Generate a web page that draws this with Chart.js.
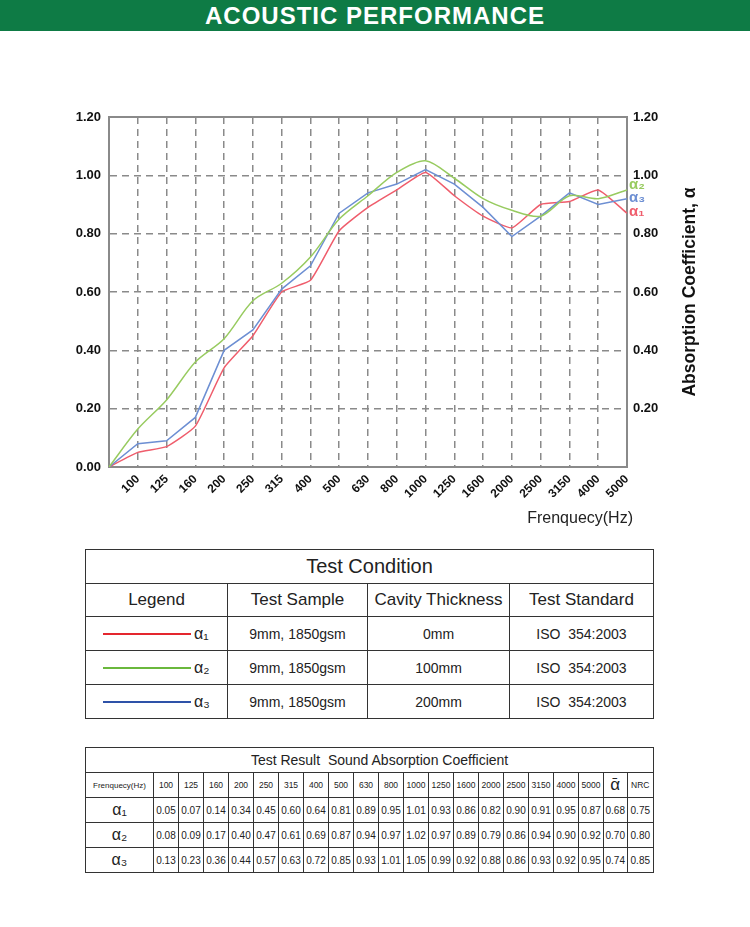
<!DOCTYPE html>
<html><head><meta charset="utf-8">
<script src="https://cdn.jsdelivr.net/npm/chart.js@4.4.0/dist/chart.umd.min.js"></script>
<style>
body{margin:0;width:750px;height:927px;background:#fff;font-family:"Liberation Sans",Arial,sans-serif;position:relative;overflow:hidden}
#bar{position:absolute;left:0;top:0;width:750px;height:31px;background:#0e7b45;color:#fff;font-size:24px;font-weight:bold;letter-spacing:1px;text-align:center;line-height:32px}
#wrap{position:absolute;left:0;top:40px;width:750px;height:500px}
table{position:absolute;border-collapse:collapse;table-layout:fixed;color:#222}
td{border:1.5px solid #333;text-align:center;padding:0;overflow:hidden;white-space:nowrap}
.lg{display:inline-block;width:88px;height:2px;vertical-align:middle;margin-right:3px}
.al{font-size:16px;vertical-align:middle}
</style>
</head><body>
<div id="bar">ACOUSTIC PERFORMANCE</div>
<div id="wrap"><canvas id="c" width="750" height="500"></canvas></div>
<table id="t1" style="left:85px;top:549px;width:568px"></table>
<table id="t2" style="left:85px;top:747px;width:568px"></table>
<script>
// ---- data ----
const freqLabels = ['100','125','160','200','250','315','400','500','630','800','1000','1250','1600','2000','2500','3150','4000','5000'];
const xLabels = [''].concat(freqLabels); // origin position + frequencies
const tableAlpha1 = [0.05,0.07,0.14,0.34,0.45,0.60,0.64,0.81,0.89,0.95,1.01,0.93,0.86,0.82,0.90,0.91,0.95,0.87];
const tableAlpha2 = [0.08,0.09,0.17,0.40,0.47,0.61,0.69,0.87,0.94,0.97,1.02,0.97,0.89,0.79,0.86,0.94,0.90,0.92];
const tableAlpha3 = [0.13,0.23,0.36,0.44,0.57,0.63,0.72,0.85,0.93,1.01,1.05,0.99,0.92,0.88,0.86,0.93,0.92,0.95];
const meanAlpha = [0.68,0.70,0.74];
const nrc = [0.75,0.80,0.85];
// chart curves (start at origin 0)
const redCurve = [0].concat(tableAlpha1);
const blueCurve = [0].concat(tableAlpha2);
const greenCurve = [0].concat(tableAlpha3);
const yTicks = [0,0.2,0.4,0.6,0.8,1.0,1.2];
// test condition
const condHeaders = ['Legend','Test Sample','Cavity Thickness','Test Standard'];
const condLegend = ['α₁','α₂','α₃'];
const condSample = ['9mm, 1850gsm','9mm, 1850gsm','9mm, 1850gsm'];
const condCavity = ['0mm','100mm','200mm'];
const condStandard = ['ISO  354:2003','ISO  354:2003','ISO  354:2003'];

const RED='#ef5d6c', GREEN='#98cb60', BLUE='#6d8fd3';
const LRED='#e4262e', LGREEN='#6ab83c', LBLUE='#2e52a8';
const GRID='#8a8a8a';
const FONT='"Liberation Sans", Arial, sans-serif';

const extras = {
  id:'extras',
  afterDraw(chart){
    const ctx = chart.ctx, a = chart.chartArea, y = chart.scales.y;
    ctx.save();
    ctx.font = 'bold 17.5px ' + FONT;
    ctx.fillStyle = '#111';
    ctx.translate(690, (a.top + a.bottom)/2);
    ctx.rotate(-Math.PI/2);
    ctx.textAlign = 'center'; ctx.textBaseline = 'middle';
    ctx.fillText('Absorption Coefficient, α', 0, 0);
    ctx.restore();
    ctx.save();
    ctx.font = '16px ' + FONT;
    ctx.fillStyle = '#222';
    ctx.textAlign = 'right'; ctx.textBaseline = 'middle';
    ctx.fillText('Frenquecy(Hz)', a.right + 6, a.bottom + 52);
    ctx.font = 'bold 15px ' + FONT;
    ctx.textAlign = 'left';
    const marks = [[greenCurve, GREEN, 'α₂', -5],[blueCurve, BLUE, 'α₃', -1],[redCurve, RED, 'α₁', -1]];
    marks.forEach(m => {
      ctx.fillStyle = m[1];
      ctx.fillText(m[2], a.right + 2, y.getPixelForValue(m[0][m[0].length-1]) + m[3]);
    });
    ctx.restore();
  }
};

const tickFont = {family:FONT, size:13, weight:'bold'};
new Chart(document.getElementById('c'), {
  type:'line',
  data:{
    labels:xLabels,
    datasets:[
      {label:'α₂', data:greenCurve, borderColor:GREEN, borderWidth:1.5, pointRadius:0, tension:0.3},
      {label:'α₃', data:blueCurve, borderColor:BLUE, borderWidth:1.5, pointRadius:0, tension:0},
      {label:'α₁', data:redCurve, borderColor:RED, borderWidth:1.5, pointRadius:0, tension:0.15}
    ]
  },
  options:{
    responsive:false, animation:false, devicePixelRatio:1,
    layout:{padding:{top:77,left:0,right:0,bottom:0}},
    plugins:{legend:{display:false}, tooltip:{enabled:false}},
    scales:{
      x:{type:'category', offset:false,
        grid:{color:GRID, lineWidth:1.5, drawTicks:false},
        border:{color:GRID, width:2, dash:[7,5]},
        ticks:{autoSkip:false, maxRotation:45, minRotation:45, padding:5, color:'#111',
          font:{family:FONT, size:12, weight:'bold'}},
        afterFit(s){ s.height = 73; }
      },
      x2:{type:'category', position:'top', offset:false,
        grid:{display:false, drawTicks:false},
        border:{display:true, color:GRID, width:2},
        ticks:{display:false},
        afterFit(s){ s.height = 0; }
      },
      y:{min:0, max:1.2, position:'left',
        afterBuildTicks(s){ s.ticks = yTicks.map(v => ({value:v})); },
        grid:{color:GRID, lineWidth:1.5, drawTicks:false},
        border:{color:GRID, width:2, dash:[7,5]},
        ticks:{padding:8, color:'#111', font:tickFont, callback:v => Number(v).toFixed(2)},
        afterFit(s){ s.width = 109; }
      },
      y2:{min:0, max:1.2, position:'right',
        afterBuildTicks(s){ s.ticks = yTicks.map(v => ({value:v})); },
        grid:{display:false, drawTicks:false},
        border:{color:GRID, width:2},
        ticks:{padding:6, color:'#111', font:tickFont, callback:v => v === 0 ? '' : Number(v).toFixed(2)},
        afterFit(s){ s.width = 123; }
      }
    }
  },
  plugins:[extras]
});

// ---- Test Condition table ----
(function(){
  const t = document.getElementById('t1');
  let h = '<colgroup><col style="width:142px"><col style="width:140px"><col style="width:142px"><col style="width:144px"></colgroup>';
  h += '<tr style="height:34px"><td colspan="4" style="font-size:20px">Test Condition</td></tr>';
  h += '<tr style="height:33px">' + condHeaders.map(x => '<td style="font-size:17px">' + x + '</td>').join('') + '</tr>';
  const lc = [LRED, LGREEN, LBLUE];
  for (let i = 0; i < 3; i++) {
    h += '<tr style="height:34px"><td style="text-align:left;padding-left:17px"><span class="lg" style="background:' + lc[i] + '"></span><span class="al">' + condLegend[i] + '</span></td>' +
      '<td style="font-size:14px">' + condSample[i] + '</td><td style="font-size:14px">' + condCavity[i] + '</td><td style="font-size:14px;white-space:pre">' + condStandard[i] + '</td></tr>';
  }
  t.innerHTML = h;
})();

// ---- Test Result table ----
(function(){
  const t = document.getElementById('t2');
  const ncol = freqLabels.length + 3;
  let h = '<colgroup><col style="width:68px">' + freqLabels.map(() => '<col style="width:25px">').join('') + '<col style="width:23.5px"><col style="width:26.5px"></colgroup>';
  h += '<tr style="height:25px"><td colspan="' + ncol + '" style="font-size:14px;padding-left:20px">Test Result&nbsp; Sound Absorption Coefficient</td></tr>';
  h += '<tr style="height:25px"><td style="font-size:8px">Frenquecy(Hz)</td>' + freqLabels.map(f => '<td style="font-size:8.5px">' + f + '</td>').join('') +
       '<td style="font-size:17px">ᾱ</td><td style="font-size:8.5px">NRC</td></tr>';
  const rows = [tableAlpha1, tableAlpha2, tableAlpha3];
  const names = ['α₁','α₂','α₃'];
  rows.forEach((r, i) => {
    h += '<tr style="height:25px"><td style="font-size:16px">' + names[i] + '</td>' + r.map(v => '<td style="font-size:10px">' + v.toFixed(2) + '</td>').join('') +
      '<td style="font-size:10px">' + meanAlpha[i].toFixed(2) + '</td><td style="font-size:10px">' + nrc[i].toFixed(2) + '</td></tr>';
  });
  t.innerHTML = h;
})();
</script>
</body></html>
